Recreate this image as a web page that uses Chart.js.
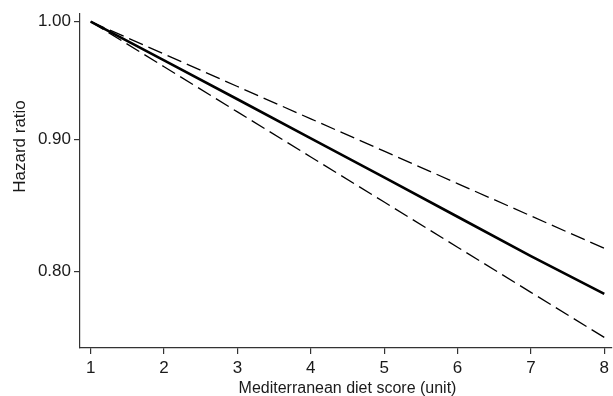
<!DOCTYPE html>
<html>
<head>
<meta charset="utf-8">
<script src="https://cdn.jsdelivr.net/npm/chart.js@4"></script>
<style>
html,body{margin:0;padding:0;background:#fff;}
#wrap{width:613px;height:396px;position:relative;}
</style>
</head>
<body>
<div id="wrap"><canvas id="c" width="613" height="396"></canvas></div>
<script>
// Data
const scores = [1, 2, 3, 4, 5, 6, 7, 8];
const hazardRatio = [1.000, 0.966, 0.933, 0.901, 0.870, 0.840, 0.811, 0.784];
const upperCI = [1.000, 0.9715, 0.9437, 0.9168, 0.8907, 0.8653, 0.8406, 0.8166];
const lowerCI = [1.000, 0.9605, 0.9225, 0.8861, 0.8511, 0.8174, 0.7851, 0.7541];
const xTicks = [1, 2, 3, 4, 5, 6, 7, 8];
const yTicks = [0.80, 0.90, 1.00];
const xTitle = 'Mediterranean diet score (unit)';
const yTitle = 'Hazard ratio';

const FONT = '"Liberation Sans", Arial, Helvetica, sans-serif';
const pts = arr => scores.map((s, i) => ({x: s, y: arr[i]}));

const titlePlugin = {
  id: 'stataTitles',
  afterDraw(chart) {
    const ctx = chart.ctx;
    const xs = chart.scales.x, ys = chart.scales.y;
    ctx.save();
    ctx.fillStyle = '#1a1a1a';
    ctx.textAlign = 'center';
    ctx.textBaseline = 'alphabetic';
    // x title centred on tick range
    ctx.font = '16px ' + FONT;
    const xc = (xs.getPixelForValue(xTicks[0]) + xs.getPixelForValue(xTicks[xTicks.length - 1])) / 2;
    ctx.fillText(xTitle, xc, 393);
    // y title centred on tick range
    ctx.font = '17px ' + FONT;
    const yc = (ys.getPixelForValue(yTicks[0]) + ys.getPixelForValue(yTicks[yTicks.length - 1])) / 2;
    ctx.translate(25, yc);
    ctx.rotate(-Math.PI / 2);
    ctx.fillText(yTitle, 0, 0);
    ctx.restore();
  }
};

new Chart(document.getElementById('c'), {
  type: 'line',
  data: {
    datasets: [
      {data: pts(upperCI), borderColor: '#000', borderWidth: 1.3, borderDash: [15, 6], pointRadius: 0, fill: false},
      {data: pts(lowerCI), borderColor: '#000', borderWidth: 1.3, borderDash: [15, 6], pointRadius: 0, fill: false},
      {data: pts(hazardRatio), borderColor: '#000', borderWidth: 2.6, pointRadius: 0, fill: false}
    ]
  },
  options: {
    responsive: false,
    animation: false,
    devicePixelRatio: 1,
    layout: {padding: {top: 12, right: 0, left: 0, bottom: 0}},
    plugins: {legend: {display: false}, tooltip: {enabled: false}},
    scales: {
      x: {
        type: 'linear',
        min: 0.854,
        max: 8.099,
        afterFit(s) { s.height = 48; },
        afterBuildTicks(s) { s.ticks = xTicks.map(v => ({value: v})); },
        border: {display: true, color: '#333', width: 1.2},
        grid: {drawOnChartArea: false, drawTicks: true, tickLength: 6, color: '#333', lineWidth: 1.2},
        ticks: {color: '#1a1a1a', font: {size: 17, family: FONT}, padding: 4, maxRotation: 0, autoSkip: false}
      },
      y: {
        type: 'logarithmic',
        min: 0.7470,
        max: 1.0076,
        afterFit(s) { s.width = 80; },
        afterBuildTicks(s) { s.ticks = yTicks.map(v => ({value: v})); },
        border: {display: true, color: '#333', width: 1.2},
        grid: {drawOnChartArea: false, drawTicks: true, tickLength: 6, color: '#333', lineWidth: 1.2},
        ticks: {color: '#1a1a1a', font: {size: 17, family: FONT}, padding: 3, autoSkip: false,
                callback: v => Number(v).toFixed(2)}
      }
    }
  },
  plugins: [titlePlugin]
});
</script>
</body>
</html>
